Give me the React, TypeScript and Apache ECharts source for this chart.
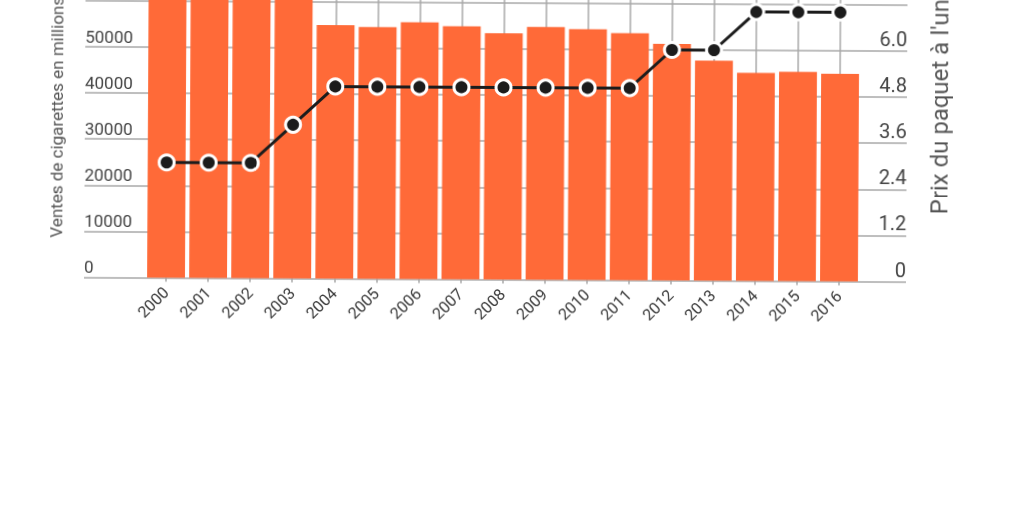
import React, { useEffect, useRef } from "react";
import * as echarts from "echarts";

const years = ["2000","2001","2002","2003","2004","2005","2006","2007","2008","2009","2010","2011","2012","2013","2014","2015","2016"];
const sales = [83000, 82500, 80500, 69600, 55000, 54600, 55700, 54900, 53400, 54800, 54400, 53600, 51300, 47700, 45100, 45400, 45000];
const prices = [3.0, 3.0, 3.0, 4.0, 5.0, 5.0, 5.0, 5.0, 5.0, 5.0, 5.0, 5.0, 6.0, 6.0, 7.0, 7.0, 7.0];
const leftTitle = "Ventes de cigarettes en millions";
const rightTitle = "Prix du paquet à l'unité";

const SHIFT = 60;
const H = 512 + SHIFT;
const GRID_TOP = -43.2 + SHIFT;
const GRID_H = 322.7;
const GRID_BOTTOM = H - (GRID_TOP + GRID_H);

export default function App() {
  const ref = useRef<HTMLDivElement>(null);
  useEffect(() => {
    if (!ref.current) return;
    const chart = echarts.init(ref.current, null, { renderer: "svg" });
    const font = "Roboto";
    const gridColor = "#a8a8a8";
    chart.setOption({
      animation: false,
      textStyle: { fontFamily: font },
      grid: [
        { left: 84, right: 118, top: GRID_TOP, bottom: GRID_BOTTOM },
        { left: 145, right: 164, top: GRID_TOP, bottom: GRID_BOTTOM },
      ],
      xAxis: [
        { gridIndex: 0, type: "value", show: false, min: 0, max: 1 },
        {
          gridIndex: 1,
          type: "category",
          data: years,
          axisLine: { show: false },
          axisTick: { show: true, alignWithLabel: true, length: 4, lineStyle: { color: gridColor, width: 1.5 } },
          splitLine: { show: true, alignWithLabel: true, lineStyle: { color: gridColor, width: 1.5 } },
          axisLabel: { rotate: 45, fontSize: 16, color: "#383838", margin: 12, fontFamily: font },
        },
      ],
      yAxis: [
        {
          gridIndex: 0,
          type: "value",
          position: "left",
          min: 0,
          max: 70000,
          interval: 10000,
          axisLine: { show: false },
          axisTick: { show: false },
          splitLine: { show: true, lineStyle: { color: gridColor, width: 1.5 } },
          axisLabel: {
            inside: true,
            align: "left",
            verticalAlign: "bottom",
            margin: 0,
            padding: [0, 0, 2, 0],
            fontSize: 17,
            color: "#444",
            fontFamily: font,
            formatter: (v: number) => (v > 50000 ? "" : String(v)),
          },
        },
        {
          gridIndex: 0,
          type: "value",
          position: "right",
          min: 0,
          max: 8.4,
          interval: 1.2,
          axisLine: { show: false },
          axisTick: { show: false },
          splitLine: { show: false },
          axisLabel: {
            inside: true,
            align: "right",
            verticalAlign: "bottom",
            margin: 0,
            padding: [0, 0, 2, 0],
            fontSize: 20,
            color: "#444",
            fontFamily: font,
            formatter: (v: number) => (v > 6.1 ? "" : v === 0 ? "0" : v.toFixed(1)),
          },
        },
        { gridIndex: 1, type: "value", show: false, min: 0, max: 70000 },
        { gridIndex: 1, type: "value", show: false, min: 0, max: 8.4 },
      ],
      series: [
        {
          type: "bar",
          xAxisIndex: 1,
          yAxisIndex: 2,
          data: sales,
          barWidth: "90%",
          itemStyle: { color: "#ff6a38" },
          z: 2,
        },
        {
          type: "line",
          xAxisIndex: 1,
          yAxisIndex: 3,
          data: prices,
          symbol: "circle",
          symbolSize: 15,
          lineStyle: { color: "#1c1c1c", width: 3 },
          itemStyle: { color: "#1c1c1c", borderColor: "#fff", borderWidth: 3 },
          z: 3,
        },
      ],
      graphic: [
        {
          type: "text",
          x: 56,
          y: 240 + SHIFT,
          rotation: Math.PI / 2,
          style: { text: leftTitle, fontSize: 17, fill: "#555", fontFamily: font, align: "left", verticalAlign: "middle" },
        },
        {
          type: "text",
          x: 939,
          y: 212 + SHIFT,
          rotation: Math.PI / 2,
          style: { text: rightTitle, fontSize: 24, fill: "#555", fontFamily: font, align: "left", verticalAlign: "middle" },
        },
      ],
    });
    return () => chart.dispose();
  }, []);
  return (
    <div
      ref={ref}
      style={{
        position: "fixed",
        left: 0,
        top: -SHIFT,
        width: 1024,
        height: H,
        transform: "rotate(0.31deg)",
        transformOrigin: `500px ${279.5 + SHIFT}px`,
      }}
    />
  );
}
